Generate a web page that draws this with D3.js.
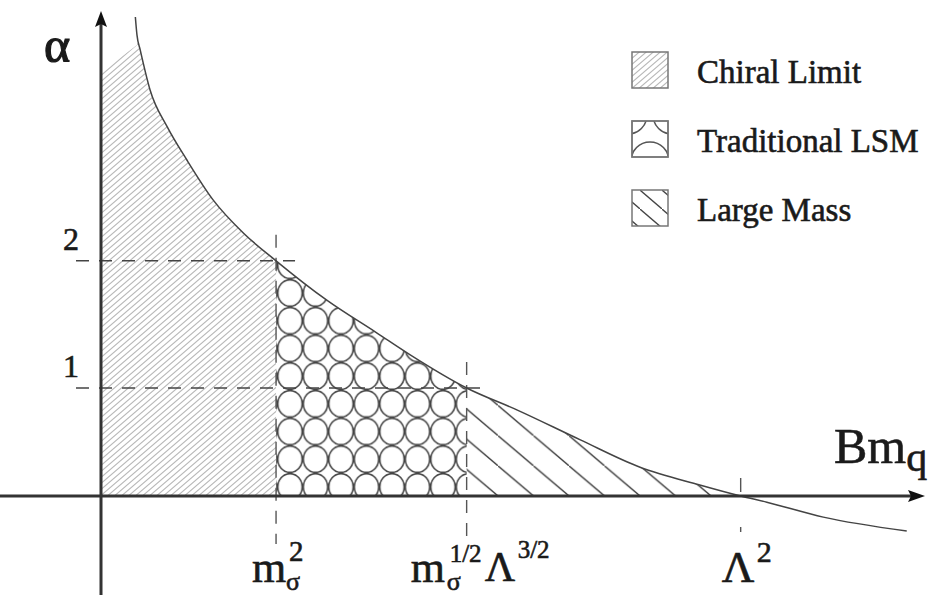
<!DOCTYPE html>
<html><head><meta charset="utf-8">
<script src="https://cdn.jsdelivr.net/npm/d3@7"></script>
<style>
body{margin:0;background:#fff}
svg{display:block}
text{font-family:"Liberation Serif","Times New Roman",serif;fill:#1a1a1a;stroke:#1a1a1a;stroke-width:0.6}
</style>
</head><body><svg id="c" width="930" height="595"></svg>
<script>
// ---- data (schematic units) ----
const curveX = [0.42, 0.44, 0.48, 0.60, 0.81, 1.05, 1.37, 1.74, 2.14, 2.76, 3.37, 3.78, 4.47, 5.09, 5.86, 6.59, 7.32, 7.82, 8.14, 8.83, 9.85];
const curveY = [9.98, 9.60, 9.29, 8.46, 7.69, 7.00, 6.17, 5.48, 4.90, 4.08, 3.40, 2.94, 2.25, 1.79, 1.17, 0.60, 0.23, 0.00, -0.13, -0.44, -0.73];
const regionNames = ["Chiral Limit", "Traditional LSM", "Large Mass"];
const regionBounds = [0, 2.14, 4.47, 7.82];
const alphaTicks = [2.25, 4.90];
const alphaTickLabels = ["1", "2"];
const bmTicks = [2.14, 4.47, 7.82];

const svg = d3.select("#c");
const x = d3.scaleLinear().domain([0, 10]).range([101, 919]);
const y = d3.scaleLinear().domain([0, 10]).range([496, 16]);
const pts = curveX.map((v, i) => [v, curveY[i]]);
const ink = "#333";

// ---- patterns ----
const defs = svg.append("defs");
function hatchPattern(id, w, h, px, py) {
  return defs.append("pattern").attr("id", id).attr("patternUnits", "userSpaceOnUse")
    .attr("width", w).attr("height", h).attr("x", px).attr("y", py);
}
let p1 = hatchPattern("chiral", 7, 6, 0, 0);
p1.append("path").attr("d", "M-1,6.85 L8,-0.85 M-8,6.85 L1,-0.85 M6,6.85 L15,-0.85")
  .attr("stroke", "#b8b8b8").attr("stroke-width", 1.1).attr("fill", "none");
let p2 = hatchPattern("lsm", 25.5, 27.7, 277.25, 279.15);
p2.append("ellipse").attr("cx", 12.75).attr("cy", 13.85).attr("rx", 12.2).attr("ry", 13.2)
  .attr("fill", "none").attr("stroke", "#444").attr("stroke-width", 1.6);
let p3 = hatchPattern("large", 35.5, 30.2, 498, 496);
p3.append("path").attr("d", "M-2,-1.7 L37.5,31.9")
  .attr("stroke", "#3a3a3a").attr("stroke-width", 1.3).attr("fill", "none");
let p3l = hatchPattern("largeL", 22, 19, 640, 190);
p3l.append("path").attr("d", "M-2,-1.7 L24,20.7")
  .attr("stroke", "#444").attr("stroke-width", 1.3).attr("fill", "none");

// ---- clip: area under curve (plus strip left of the curve start) ----
const area = d3.area().x(d => x(d[0])).y0(y(0)).y1(d => y(d[1])).curve(d3.curveMonotoneX);
const line = d3.line().x(d => x(d[0])).y(d => y(d[1])).curve(d3.curveMonotoneX);
const clip = defs.append("clipPath").attr("id", "under");
clip.append("path").attr("d", area(pts.filter(d => d[1] >= 0)));
clip.append("rect").attr("x", x(0)).attr("y", 0).attr("width", x(curveX[0]) - x(0) + 0.5).attr("height", y(0));

const fills = ["url(#chiral)", "url(#lsm)", "url(#large)"];
const g = svg.append("g").attr("clip-path", "url(#under)");
regionNames.forEach((n, i) => {
  const x0 = x(regionBounds[i]), x1 = x(regionBounds[i + 1]);
  let d;
  if (i === 0) {
    d = `M${x0},${y(0)} L${x0},72 L${x0 + 36},45 L${x0 + 36},0 L${x1},0 L${x1},${y(0)} Z`;
  } else {
    d = `M${x0},0 L${x1},0 L${x1},${y(0)} L${x0},${y(0)} Z`;
  }
  g.append("path").attr("d", d).attr("fill", fills[i]);
});

// ---- dashed guides ----
alphaTicks.forEach((t, i) => {
  svg.append("line").attr("x1", x(0) - 25).attr("x2", x(bmTicks[1 - i]) + 19)
    .attr("y1", y(t)).attr("y2", y(t))
    .attr("stroke", "#444").attr("stroke-width", 1.4).attr("stroke-dasharray", "13,10");
  svg.append("text").attr("x", x(0) - 38).attr("y", y(t) - 11)
    .attr("font-size", 32).text(alphaTickLabels[i]);
});
bmTicks.forEach((t, i) => {
  const top = i < 2 ? y(alphaTicks[1 - i]) - 26 : y(0) - 18;
  const bot = i < 2 ? y(0) + 48 : y(0) + 36;
  svg.append("line").attr("x1", x(t)).attr("x2", x(t)).attr("y1", top).attr("y2", bot)
    .attr("stroke", "#555").attr("stroke-width", 1.4).attr("stroke-dasharray", i < 2 ? "13,10" : "14,35");
});

// ---- curve ----
svg.append("path").attr("d", line(pts)).attr("fill", "none")
  .attr("stroke", "#444").attr("stroke-width", 1.5);

// ---- axes ----
svg.append("line").attr("x1", 0).attr("x2", 912).attr("y1", y(0)).attr("y2", y(0))
  .attr("stroke", ink).attr("stroke-width", 3);
svg.append("path").attr("d", `M925,${y(0)} L908,${y(0) - 6} L911,${y(0)} L908,${y(0) + 6} Z`).attr("fill", "#111");
svg.append("line").attr("x1", x(0)).attr("x2", x(0)).attr("y1", 595).attr("y2", 24)
  .attr("stroke", ink).attr("stroke-width", 3);
svg.append("path").attr("d", `M${x(0)},11 L${x(0) - 6},27 L${x(0)},24 L${x(0) + 6},27 Z`).attr("fill", "#111");

// ---- axis titles ----
svg.append("text").attr("x", 44).attr("y", 62).attr("font-size", 50).style("stroke-width", 1.2).text("α");
const bm = svg.append("text").attr("x", 834).attr("y", 463).attr("font-size", 50);
bm.append("tspan").text("Bm");
bm.append("tspan").attr("font-size", 42).attr("dy", 8).text("q");

// ---- tick labels on Bm axis ----
const lab = (xx, yy, fs, s) => svg.append("text").attr("x", xx).attr("y", yy).attr("font-size", fs).text(s);
let bx = x(bmTicks[0]);
lab(bx - 24, 582, 44, "m"); lab(bx + 10, 590, 26, "σ"); lab(bx + 13, 561, 29, "2");
bx = x(bmTicks[1]);
lab(bx - 56, 582, 44, "m"); lab(bx - 20, 590, 26, "σ"); lab(bx - 17, 562, 25, "1/2");
lab(bx + 18, 581, 42, "Λ"); lab(bx + 51, 558, 25, "3/2");
bx = x(bmTicks[2]);
lab(bx - 19, 582, 45, "Λ"); lab(bx + 16, 562, 30, "2");

// ---- legend ----
const legY = [52, 121, 190];
const legClip = defs.append("clipPath").attr("id", "legLsm");
legClip.append("rect").attr("x", 632).attr("y", legY[1]).attr("width", 36).attr("height", 36);
regionNames.forEach((n, i) => {
  const r = svg.append("rect").attr("x", 632).attr("y", legY[i]).attr("width", 36).attr("height", 36)
    .attr("fill", i === 0 ? "url(#chiral)" : i === 2 ? "url(#largeL)" : "#fff")
    .attr("stroke", "#777").attr("stroke-width", 1.5);
  if (i === 1) {
    const lg = svg.append("g").attr("clip-path", "url(#legLsm)");
    [[628, legY[1] - 6, 19], [672, legY[1] - 6, 19], [650, legY[1] + 40, 19]].forEach(c =>
      lg.append("circle").attr("cx", c[0]).attr("cy", c[1]).attr("r", c[2])
        .attr("fill", "none").attr("stroke", "#555").attr("stroke-width", 1.5));
    svg.append("rect").attr("x", 632).attr("y", legY[i]).attr("width", 36).attr("height", 36)
      .attr("fill", "none").attr("stroke", "#777").attr("stroke-width", 1.5);
  }
  svg.append("text").attr("x", 697).attr("y", legY[i] + 31).attr("font-size", 33).text(n);
});
</script>
</body></html>
